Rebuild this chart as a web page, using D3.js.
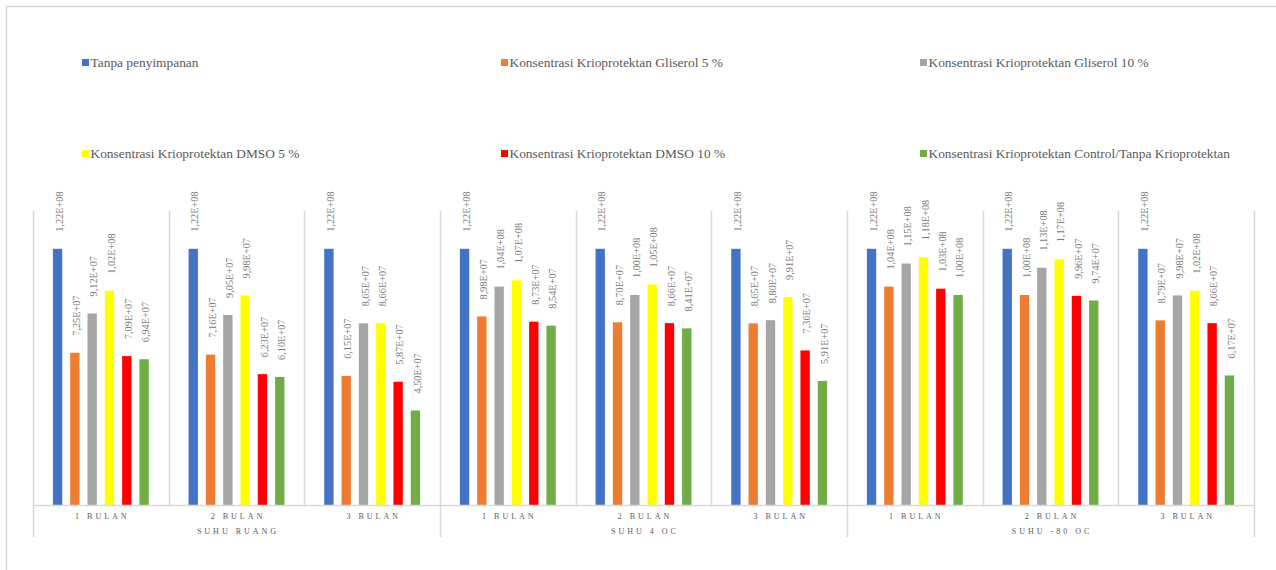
<!DOCTYPE html>
<html>
<head>
<meta charset="utf-8">
<script src="https://cdn.jsdelivr.net/npm/d3@7"></script>
<style>
  html, body { margin: 0; padding: 0; background: #fff; }
  svg { display: block; }
  text { font-family: "Liberation Serif", "Times New Roman", serif; }
</style>
</head>
<body>
<svg id="chart" width="1276" height="570"></svg>
<script>
// Storage temperature groups and storage periods (two-level category axis)
const groups = ["SUHU RUANG", "SUHU 4 OC", "SUHU -80 OC"];
const periods = ["1 BULAN", "2 BULAN", "3 BULAN"];

// Series names (legend order)
const seriesNames = [
  "Tanpa penyimpanan",
  "Konsentrasi Krioprotektan Gliserol 5 %",
  "Konsentrasi Krioprotektan Gliserol 10 %",
  "Konsentrasi Krioprotektan DMSO 5 %",
  "Konsentrasi Krioprotektan DMSO 10 %",
  "Konsentrasi Krioprotektan Control/Tanpa Krioprotektan"
];
const seriesColors = ["#4472C4", "#ED7D31", "#A5A5A5", "#FFFF00", "#FF0000", "#70AD47"];

// Values per category: Ruang 1-3 bulan, 4 OC 1-3 bulan, -80 OC 1-3 bulan
const tanpaPenyimpanan = [1.22e8, 1.22e8, 1.22e8, 1.22e8, 1.22e8, 1.22e8, 1.22e8, 1.22e8, 1.22e8];
const gliserol5  = [7.25e7, 7.16e7, 6.15e7, 8.98e7, 8.70e7, 8.65e7, 1.04e8, 1.00e8, 8.79e7];
const gliserol10 = [9.12e7, 9.05e7, 8.65e7, 1.04e8, 1.00e8, 8.80e7, 1.15e8, 1.13e8, 9.98e7];
const dmso5      = [1.02e8, 9.98e7, 8.66e7, 1.07e8, 1.05e8, 9.91e7, 1.18e8, 1.17e8, 1.02e8];
const dmso10     = [7.09e7, 6.23e7, 5.87e7, 8.73e7, 8.66e7, 7.36e7, 1.03e8, 9.96e7, 8.66e7];
const kontrol    = [6.94e7, 6.10e7, 4.50e7, 8.54e7, 8.41e7, 5.91e7, 1.00e8, 9.74e7, 6.17e7];

const seriesValues = [tanpaPenyimpanan, gliserol5, gliserol10, dmso5, dmso10, kontrol];
const yMax = 1.4e8;

// Flattened category list
const categories = [];
groups.forEach((g, gi) => periods.forEach((p, pi) => categories.push({ group: g, gi, period: p, idx: gi * periods.length + pi })));

const svg = d3.select("#chart");

// Chart area border
svg.append("rect")
  .attr("x", 6.5).attr("y", 6.5)
  .attr("width", 1300).attr("height", 600)
  .attr("fill", "none").attr("stroke", "#d9d9d9").attr("stroke-width", 1.5);

const plot = { left: 33, right: 1254, top: 211, bottom: 505 };

const x0 = d3.scaleBand()
  .domain(categories.map(c => c.idx))
  .range([plot.left, plot.right])
  .paddingInner(0).paddingOuter(0);

const x1 = d3.scaleBand()
  .domain(d3.range(seriesNames.length))
  .range([0, x0.bandwidth()])
  .paddingInner(0.46).paddingOuter(1.15);

const y = d3.scaleLinear().domain([0, yMax]).range([plot.bottom, plot.top]);

const gridColor = "#d9d9d9";

// Category separators in the plot area
const bounds = d3.range(categories.length + 1).map(i => plot.left + i * x0.step());
svg.append("g").selectAll("line").data(bounds).join("line")
  .attr("x1", d => Math.round(d) + 0.5).attr("x2", d => Math.round(d) + 0.5)
  .attr("y1", plot.top).attr("y2", plot.bottom)
  .attr("stroke", gridColor).attr("stroke-width", 1.5);

// Group separators below the axis
const groupBounds = d3.range(groups.length + 1).map(i => plot.left + i * periods.length * x0.step());
svg.append("g").selectAll("line").data(groupBounds).join("line")
  .attr("x1", d => Math.round(d) + 0.5).attr("x2", d => Math.round(d) + 0.5)
  .attr("y1", plot.bottom).attr("y2", 537)
  .attr("stroke", gridColor).attr("stroke-width", 1.5);

// Bars
const fmt = v => {
  const [m, e] = v.toExponential(2).split("e");
  const sign = e[0] === "-" ? "-" : "+";
  const digits = e.replace(/[+-]/, "").padStart(2, "0");
  return m.replace(".", ",") + "E" + sign + digits;
};

const barData = [];
categories.forEach(c => seriesValues.forEach((vals, si) => barData.push({ c, si, v: vals[c.idx] })));

svg.append("g").selectAll("rect").data(barData).join("rect")
  .attr("x", d => x0(d.c.idx) + x1(d.si))
  .attr("y", d => y(d.v))
  .attr("width", x1.bandwidth())
  .attr("height", d => y(0) - y(d.v))
  .attr("fill", d => seriesColors[d.si]);

// Data labels (rotated)
svg.append("g").selectAll("text").data(barData).join("text")
  .attr("transform", d => {
    const cx = x0(d.c.idx) + x1(d.si) + x1.bandwidth() / 2 + 1.5;
    const cy = y(d.v) - 17;
    return `translate(${cx},${cy}) rotate(-90)`;
  })
  .attr("dy", "0.35em")
  .attr("text-anchor", "start")
  .attr("font-size", "10.3px")
  .attr("fill", "#7a7a7a")
  .text(d => fmt(d.v));

// Axis baseline
svg.append("line")
  .attr("x1", plot.left).attr("x2", plot.right + 1)
  .attr("y1", plot.bottom + 0.5).attr("y2", plot.bottom + 0.5)
  .attr("stroke", gridColor).attr("stroke-width", 1.5);

// Period labels
svg.append("g").selectAll("text").data(categories).join("text")
  .attr("x", d => x0(d.idx) + x0.bandwidth() / 2 + 1.5)
  .attr("y", 516)
  .attr("dy", "0.35em")
  .attr("text-anchor", "middle")
  .attr("font-size", "8px")
  .attr("letter-spacing", "3px")
  .attr("fill", "#595959")
  .text(d => d.period);

// Group labels
svg.append("g").selectAll("text").data(groups).join("text")
  .attr("x", (d, i) => (groupBounds[i] + groupBounds[i + 1]) / 2 + 1.5)
  .attr("y", 531)
  .attr("dy", "0.35em")
  .attr("text-anchor", "middle")
  .attr("font-size", "8px")
  .attr("letter-spacing", "3px")
  .attr("fill", "#595959")
  .text(d => d);

// Legend: 3 columns x 2 rows
const legendCols = [82, 501, 920];
const legendRows = [62.5, 153.5];
const legend = svg.append("g").selectAll("g").data(seriesNames).join("g")
  .attr("transform", (d, i) => `translate(${legendCols[i % 3]},${legendRows[Math.floor(i / 3)]})`);
legend.append("rect")
  .attr("x", 0).attr("y", -3.5).attr("width", 7).attr("height", 7)
  .attr("fill", (d, i) => seriesColors[i]);
legend.append("text")
  .attr("x", 8.5).attr("y", 0).attr("dy", "0.35em")
  .attr("font-size", "13.4px")
  .attr("fill", "#595959")
  .text(d => d);
</script>
</body>
</html>
